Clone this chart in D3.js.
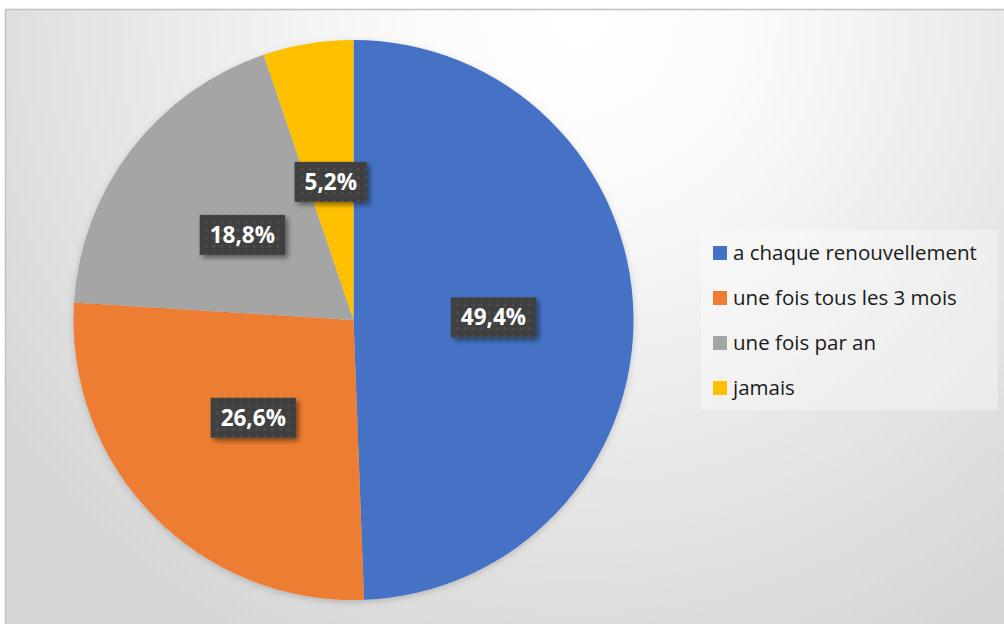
<!DOCTYPE html>
<html><head><meta charset="utf-8">
<script src="https://cdn.jsdelivr.net/npm/d3@7"></script>
<style>html,body{margin:0;padding:0;background:#fff;}svg{display:block;}</style>
</head><body>
<svg id="c" width="1004" height="624"></svg>
<script>
const categories = ["a chaque renouvellement", "une fois tous les 3 mois", "une fois par an", "jamais"];
const values = [49.4, 26.6, 18.8, 5.2];
const labels = ["49,4%", "26,6%", "18,8%", "5,2%"];
const colors = ["#4472C4", "#ED7D31", "#A5A5A5", "#FFC000"];

const svg = d3.select("#c");
const defs = svg.append("defs");

const bg = defs.append("radialGradient").attr("id","bg")
  .attr("gradientUnits","userSpaceOnUse").attr("cx",580).attr("cy",20).attr("r",700);
bg.append("stop").attr("offset","0").attr("stop-color","#ffffff");
bg.append("stop").attr("offset","0.25").attr("stop-color","#fafafa");
bg.append("stop").attr("offset","1").attr("stop-color","#d6d6d6");

const pat = defs.append("pattern").attr("id","dots").attr("patternUnits","userSpaceOnUse")
  .attr("width",8).attr("height",8);
pat.append("rect").attr("width",8).attr("height",8).attr("fill","#3f3f3f");
pat.append("rect").attr("x",2).attr("y",2).attr("width",3).attr("height",3).attr("fill","#4d4d4d");

const sh = defs.append("filter").attr("id","sh").attr("x","-30%").attr("y","-30%").attr("width","160%").attr("height","160%");
sh.append("feDropShadow").attr("dx",3).attr("dy",3).attr("stdDeviation",2.5).attr("flood-color","#000").attr("flood-opacity",0.45);

const psh = defs.append("filter").attr("id","psh").attr("x","-10%").attr("y","-10%").attr("width","120%").attr("height","120%");
psh.append("feDropShadow").attr("dx",0).attr("dy",2).attr("stdDeviation",3).attr("flood-color","#000").attr("flood-opacity",0.18);

svg.append("rect").attr("x",5.5).attr("y",9.5).attr("width",1010).attr("height",630)
  .attr("fill","url(#bg)").attr("stroke","#c4c4c4").attr("stroke-width",1.6);

const cx = 353.5, cy = 320, R = 280;
const pie = d3.pie().sort(null).value(d => d)(values);
const arc = d3.arc().innerRadius(0).outerRadius(R);
const labelArc = d3.arc().innerRadius(R*0.5).outerRadius(R*0.5);

const g = svg.append("g").attr("transform",`translate(${cx},${cy})`);
g.append("g").attr("filter","url(#psh)").selectAll("path").data(pie).join("path")
  .attr("d",arc).attr("fill",(d,i)=>colors[i]);

const lg = g.selectAll("g.lab").data(pie).join("g").attr("class","lab")
  .attr("transform",d=>{const c=labelArc.centroid(d);return `translate(${c[0]},${c[1]})`;});
lg.each(function(d,i){
  const el = d3.select(this);
  const t = el.append("text").text(labels[i]).attr("text-anchor","middle").attr("dy","0.36em")
    .attr("font-family","Open Sans, sans-serif").attr("font-weight","bold").attr("font-size",22.5).attr("fill","#fff");
  const w = t.node().getComputedTextLength();
  el.insert("rect","text").attr("x",-w/2-10).attr("y",-20).attr("width",w+20).attr("height",40)
    .attr("fill","url(#dots)").attr("filter","url(#sh)");
});

// legend
const legX = 701, legY = 230;
svg.append("rect").attr("x",legX).attr("y",legY).attr("width",297).attr("height",180)
  .attr("fill","#ffffff").attr("fill-opacity",0.35);
const li = svg.selectAll("g.leg").data(categories).join("g").attr("class","leg")
  .attr("transform",(d,i)=>`translate(${legX+12},${legY+23+i*45})`);
li.append("rect").attr("x",0).attr("y",-7).attr("width",14).attr("height",14).attr("fill",(d,i)=>colors[i]);
li.append("text").attr("x",20).attr("dy","0.35em").text(d=>d)
  .attr("font-family","Open Sans, sans-serif").attr("font-size",20.5).attr("fill","#1a1a1a");
</script>
</body></html>
